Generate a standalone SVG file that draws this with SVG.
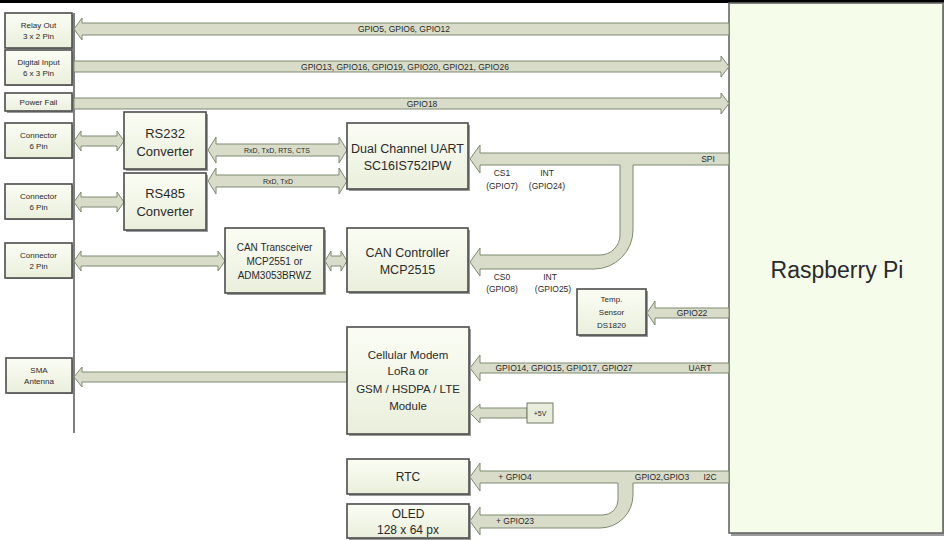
<svg xmlns="http://www.w3.org/2000/svg" width="944" height="540" viewBox="0 0 944 540">
<defs>
<linearGradient id="boxg" x1="0" y1="0" x2="0" y2="1">
<stop offset="0" stop-color="#fbfdf4"/>
<stop offset="1" stop-color="#eaefdc"/>
</linearGradient>
<style>
.box{fill:url(#boxg);stroke:#4d4d4d;stroke-width:1.6}
.sh{fill:#9a9a9a}
.arr{fill:#d8dcc9;stroke:#7c8a70;stroke-width:1}
.t{font-family:"Liberation Sans",Arial,sans-serif;fill:#2a2a2a;text-anchor:middle}
.s{font-size:8px}
.m{font-size:8.5px}
.l{font-size:13px}
.n{font-size:10px}
</style>
</defs>
<rect x="0" y="0" width="944" height="540" fill="#ffffff"/>
<rect x="0" y="0" width="944" height="3" fill="#000000"/>

<g id="raspberry-pi">
<rect x="731" y="5" width="214" height="531" class="sh"/>
<rect x="729" y="3" width="214" height="530" fill="#f5fcea" stroke="#666" stroke-width="1.6"/>
<text x="837" y="278" class="t" style="font-size:23px">Raspberry Pi</text>
</g>

<line x1="74" y1="13" x2="74" y2="433" stroke="#555" stroke-width="1.5"/>

<g id="connectors">
<path class="arr" d="M729 23 L82 23 L82 18 L74 29 L82 40 L82 35 L729 35 Z"/>
<path class="arr" d="M74 61 L721 61 L721 56 L729 66.5 L721 77 L721 72 L74 72 Z"/>
<path class="arr" d="M74 98 L721 98 L721 93 L729 103.5 L721 114 L721 109 L74 109 Z"/>
<path class="arr" d="M81 136 L117 136 L117 131 L124 141 L117 151 L117 146 L81 146 L81 151 L74 141 L81 131 Z"/>
<path class="arr" d="M81 197 L117 197 L117 192 L124 202 L117 212 L117 207 L81 207 L81 212 L74 202 L81 192 Z"/>
<path class="arr" d="M216 144 L339 144 L339 137 L347 150 L339 163 L339 156 L216 156 L216 163 L208 150 L216 137 Z"/>
<path class="arr" d="M216 175 L339 175 L339 168 L347 181 L339 194 L339 187 L216 187 L216 194 L208 181 L216 168 Z"/>
<path class="arr" d="M81 256 L218 256 L218 251 L225 261 L218 271 L218 266 L81 266 L81 271 L74 261 L81 251 Z"/>
<path class="arr" d="M331 256 L341 256 L341 251 L347 261 L341 271 L341 266 L331 266 L331 271 L325 261 L331 251 Z"/>
<path class="arr" d="M729 153 L480 153 L480 145 L470 159 L480 173 L480 165 L620 165 L620 235 A20 20 0 0 1 600 255 L480 255 L480 248 L470 262 L480 276 L480 269 L594 269 A39 39 0 0 0 633 230 L633 165 L729 165 Z"/>
<path class="arr" d="M729 308 L655 308 L655 301 L647 313 L655 325 L655 318 L729 318 Z"/>
<path class="arr" d="M729 363 L480 363 L480 355 L470 368 L480 381 L480 373 L729 373 Z"/>
<path class="arr" d="M527 408 L480 408 L480 404 L470 413 L480 423 L480 418 L527 418 Z"/>
<path class="arr" d="M347 372 L82 372 L82 367 L74 377 L82 387 L82 382 L347 382 Z"/>
<path class="arr" d="M729 471 L480 471 L480 463 L470 477 L480 491 L480 483 L618 483 L618 500 A15 15 0 0 1 603 515 L480 515 L480 507 L470 521 L480 535 L480 528 L600 528 A33 33 0 0 0 633 495 L633 483 L729 483 Z"/>
<text x="404" y="32" class="t m">GPIO5, GPIO6, GPIO12</text>
<text x="405" y="69.5" class="t m">GPIO13, GPIO16, GPIO19, GPIO20, GPIO21, GPIO26</text>
<text x="422" y="106.5" class="t m">GPIO18</text>
<text x="277" y="152.5" class="t" style="font-size:7px">RxD, TxD, RTS, CTS</text>
<text x="278" y="183.5" class="t" style="font-size:7px">RxD, TxD</text>
<text x="708" y="162" class="t m">SPI</text>
<text x="502" y="176" class="t m">CS1</text>
<text x="502" y="189" class="t m">(GPIO7)</text>
<text x="547" y="176" class="t m">INT</text>
<text x="547" y="189" class="t m">(GPIO24)</text>
<text x="502" y="280" class="t m">CS0</text>
<text x="502" y="292" class="t m">(GPIO8)</text>
<text x="550" y="280" class="t m">INT</text>
<text x="553" y="292" class="t m">(GPIO25)</text>
<text x="692" y="316" class="t m">GPIO22</text>
<text x="564" y="371" class="t m">GPIO14, GPIO15, GPIO17, GPIO27</text>
<text x="700" y="371" class="t m">UART</text>
<text x="515" y="480" class="t m">+ GPIO4</text>
<text x="662" y="480" class="t m">GPIO2,GPIO3</text>
<text x="710" y="480" class="t m">I2C</text>
<text x="515" y="524" class="t m">+ GPIO23</text>
</g>

<g id="relay-out">
<rect x="7" y="15" width="66" height="34" class="sh"/>
<rect x="5" y="13" width="67" height="35" class="box"/>
<text x="38.5" y="28" class="t s">Relay Out</text>
<text x="38.5" y="39" class="t s">3 x 2 Pin</text>
</g>
<g id="digital-input">
<rect x="7" y="52" width="66" height="34" class="sh"/>
<rect x="5" y="50" width="67" height="35" class="box"/>
<text x="38.5" y="65" class="t s">Digital Input</text>
<text x="38.5" y="76" class="t s">6 x 3 Pin</text>
</g>
<g id="power-fail">
<rect x="7" y="95" width="66" height="18" class="sh"/>
<rect x="5" y="93" width="67" height="18" class="box"/>
<text x="38.5" y="105" class="t s">Power Fail</text>
</g>
<g id="connector-rs232">
<rect x="7" y="125" width="66" height="34" class="sh"/>
<rect x="5" y="123" width="67" height="35" class="box"/>
<text x="38.5" y="138" class="t s">Connector</text>
<text x="38.5" y="149" class="t s">6 Pin</text>
</g>
<g id="connector-rs485">
<rect x="7" y="186" width="66" height="34" class="sh"/>
<rect x="5" y="184" width="67" height="35" class="box"/>
<text x="38.5" y="199" class="t s">Connector</text>
<text x="38.5" y="210" class="t s">6 Pin</text>
</g>
<g id="connector-can">
<rect x="7" y="245" width="66" height="34" class="sh"/>
<rect x="5" y="243" width="67" height="35" class="box"/>
<text x="38.5" y="258" class="t s">Connector</text>
<text x="38.5" y="269" class="t s">2 Pin</text>
</g>
<g id="sma-antenna">
<rect x="8" y="360" width="65" height="34" class="sh"/>
<rect x="6" y="358" width="66" height="35" class="box"/>
<text x="39" y="373" class="t s">SMA</text>
<text x="39" y="384" class="t s">Antenna</text>
</g>
<g id="rs232">
<rect x="126" y="114" width="82" height="57" class="sh"/>
<rect x="124" y="112" width="82" height="57" class="box"/>
<text x="165" y="138" class="t l">RS232</text>
<text x="165" y="156" class="t l">Converter</text>
</g>
<g id="rs485">
<rect x="126" y="175" width="82" height="57" class="sh"/>
<rect x="124" y="173" width="82" height="57" class="box"/>
<text x="165" y="198" class="t l">RS485</text>
<text x="165" y="216" class="t l">Converter</text>
</g>
<g id="uart">
<rect x="349" y="125" width="121" height="66" class="sh"/>
<rect x="347" y="123" width="121" height="66" class="box"/>
<text x="407.5" y="153" class="t" style="font-size:12.5px">Dual Channel UART</text>
<text x="407.5" y="170" class="t" style="font-size:12.5px">SC16IS752IPW</text>
</g>
<g id="can-transceiver">
<rect x="227" y="230" width="99" height="65" class="sh"/>
<rect x="225" y="228" width="99" height="65" class="box"/>
<text x="274.5" y="251" class="t n">CAN Transceiver</text>
<text x="274.5" y="265" class="t n">MCP2551 or</text>
<text x="274.5" y="279" class="t n">ADM3053BRWZ</text>
</g>
<g id="can-controller">
<rect x="349" y="230" width="121" height="64" class="sh"/>
<rect x="347" y="228" width="121" height="64" class="box"/>
<text x="407.5" y="257" class="t" style="font-size:12.5px">CAN Controller</text>
<text x="407.5" y="274" class="t" style="font-size:12.5px">MCP2515</text>
</g>
<g id="temp-sensor">
<rect x="579" y="291" width="69" height="46" class="sh"/>
<rect x="577" y="289" width="69" height="46" class="box"/>
<text x="611.5" y="302" class="t s">Temp.</text>
<text x="611.5" y="315" class="t s">Sensor</text>
<text x="611.5" y="328" class="t s">DS1820</text>
</g>
<g id="cellular-modem">
<rect x="349" y="329" width="122" height="107" class="sh"/>
<rect x="347" y="327" width="122" height="107" class="box"/>
<text x="408" y="359" class="t" style="font-size:11.5px">Cellular Modem</text>
<text x="408" y="375" class="t" style="font-size:11.5px">LoRa or</text>
<text x="408" y="393" class="t" style="font-size:11.5px">GSM / HSDPA / LTE</text>
<text x="408" y="410" class="t" style="font-size:11.5px">Module</text>
</g>
<g id="plus-5v">
<rect x="527" y="403" width="26" height="20" fill="#e8ecdb" stroke="#6f7b66" stroke-width="1"/>
<text x="540" y="416" class="t" style="font-size:7px">+5V</text>
</g>
<g id="rtc">
<rect x="349" y="461" width="122" height="35" class="sh"/>
<rect x="347" y="459" width="122" height="35" class="box"/>
<text x="408" y="481" class="t" style="font-size:12px">RTC</text>
</g>
<g id="oled">
<rect x="349" y="506" width="122" height="34" class="sh"/>
<rect x="347" y="504" width="122" height="34" class="box"/>
<text x="408" y="518" class="t" style="font-size:12px">OLED</text>
<text x="408" y="534" class="t" style="font-size:12px">128 x 64 px</text>
</g>
</svg>
